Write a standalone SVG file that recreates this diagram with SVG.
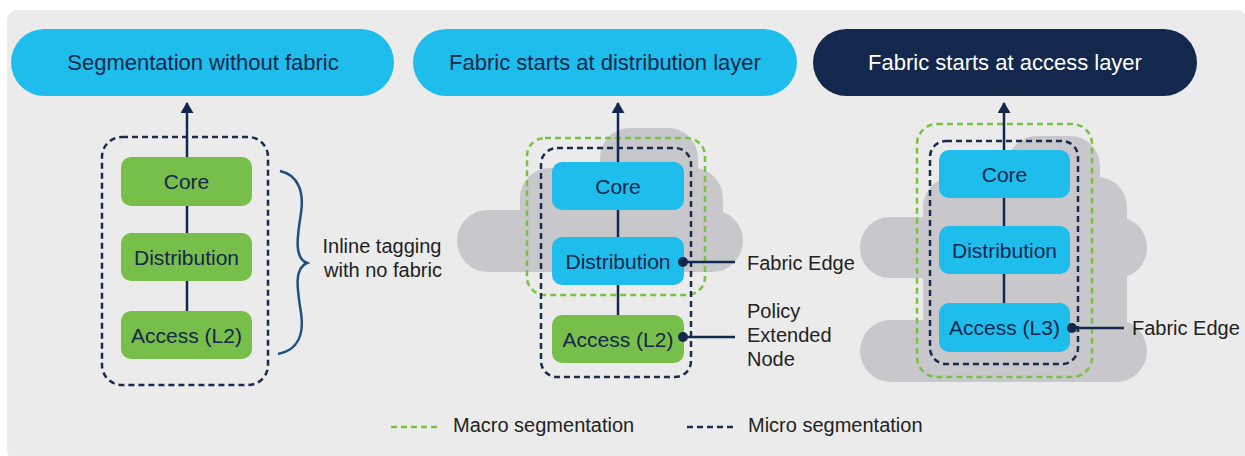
<svg xmlns="http://www.w3.org/2000/svg" width="1245" height="456" viewBox="0 0 1245 456">
<defs>
<style>
.title{font-family:"Liberation Sans",Arial,sans-serif;font-size:22px;text-anchor:middle}
.lbl{font-family:"Liberation Sans",Arial,sans-serif;font-size:21px;text-anchor:middle;fill:#13284c}
.note{font-family:"Liberation Sans",Arial,sans-serif;font-size:20px;fill:#222}
.green{fill:#78be4a}
.blue{fill:#1ebdeb}
.cloud{fill:#c8c8cc}
.micro{fill:none;stroke:#1a2b4c;stroke-width:2.5;stroke-dasharray:6 4}
.macro{fill:none;stroke:#7ac143;stroke-width:2.5;stroke-dasharray:6 4}
.conn{stroke:#13284c;stroke-width:2.5;fill:none}
.dot{fill:#13284c}
</style>
<marker id="arr" viewBox="0 0 11 13" refX="10" refY="6.5" markerWidth="11" markerHeight="13" markerUnits="userSpaceOnUse" orient="auto">
<path d="M0,0 L11,6.5 L0,13 Z" fill="#13284c"/>
</marker>
</defs>
<rect x="7" y="10" width="1240" height="450" rx="10" fill="#ebebeb"/>

<!-- clouds -->
<g id="cloud2" class="cloud">
<rect x="457" y="210" width="286" height="62" rx="31"/>
<rect x="520" y="168" width="203" height="104" rx="30"/>
<rect x="600" y="128" width="98" height="72" rx="30"/>
</g>
<g id="cloud3" class="cloud">
<rect x="860" y="217" width="287" height="61" rx="30"/>
<rect x="860" y="320" width="287" height="62" rx="31"/>
<rect x="923" y="177" width="204" height="180" rx="30"/>
<rect x="1007" y="136" width="93" height="70" rx="30"/>
</g>

<!-- titles -->
<g id="title1"><rect x="11" y="29" width="383" height="67" rx="33.5" fill="#1ebdeb"/><text class="title" x="203" y="70" fill="#13284c">Segmentation without fabric</text></g>
<g id="title2"><rect x="413" y="29" width="384" height="67" rx="33.5" fill="#1ebdeb"/><text class="title" x="605" y="70" fill="#13284c">Fabric starts at distribution layer</text></g>
<g id="title3"><rect x="813" y="29" width="384" height="67" rx="33.5" fill="#13284c"/><text class="title" x="1005" y="70" fill="#ffffff">Fabric starts at access layer</text></g>

<!-- segmentation boundaries -->
<g id="boundaries">
<rect class="micro" x="102" y="137" width="166" height="248" rx="20"/>
<rect class="macro" x="527" y="138" width="178" height="157" rx="18"/>
<rect class="micro" x="541" y="148" width="150" height="229" rx="16"/>
<rect class="macro" x="917" y="124" width="175" height="253" rx="20"/>
<rect class="micro" x="930" y="141" width="148" height="223" rx="16"/>
</g>

<!-- column 1 -->
<g id="core1"><rect class="green" x="121" y="157" width="131" height="49" rx="10"/><text class="lbl" x="186.5" y="189">Core</text></g>
<g id="dist1"><rect class="green" x="121" y="233" width="131" height="48" rx="10"/><text class="lbl" x="186.5" y="264.5">Distribution</text></g>
<g id="acc1"><rect class="green" x="121" y="311" width="131" height="48" rx="10"/><text class="lbl" x="186.5" y="342.5">Access (L2)</text></g>
<g id="inline"><text class="note" text-anchor="middle" x="382" y="253">Inline tagging</text><text class="note" text-anchor="middle" x="383" y="277">with no fabric</text></g>

<!-- column 2 -->
<g id="core2"><rect class="blue" x="552" y="162" width="132" height="48" rx="10"/><text class="lbl" x="618" y="193.5">Core</text></g>
<g id="dist2"><rect class="blue" x="552" y="237" width="132" height="48" rx="10"/><text class="lbl" x="618" y="268.5">Distribution</text></g>
<g id="acc2"><rect class="green" x="552" y="315" width="132" height="48" rx="10"/><text class="lbl" x="618" y="346.5">Access (L2)</text></g>
<g id="fe2"><text class="note" x="747" y="269.5">Fabric Edge</text></g>
<g id="pen"><text class="note" x="747" y="318">Policy</text><text class="note" x="747" y="342">Extended</text><text class="note" x="747" y="366">Node</text></g>

<!-- column 3 -->
<g id="core3"><rect class="blue" x="939" y="150" width="131" height="48" rx="10"/><text class="lbl" x="1004.5" y="181.5">Core</text></g>
<g id="dist3"><rect class="blue" x="939" y="226" width="131" height="48" rx="10"/><text class="lbl" x="1004.5" y="257.5">Distribution</text></g>
<g id="acc3"><rect class="blue" x="939" y="303" width="131" height="49" rx="10"/><text class="lbl" x="1004.5" y="335">Access (L3)</text></g>
<g id="fe3"><text class="note" x="1132" y="335">Fabric Edge</text></g>

<!-- connectors -->
<g id="connectors">
<line class="conn" x1="187" y1="157" x2="187" y2="103" marker-end="url(#arr)"/>
<line class="conn" x1="187" y1="206" x2="187" y2="233"/>
<line class="conn" x1="187" y1="281" x2="187" y2="311"/>
<line class="conn" x1="618" y1="162" x2="618" y2="103" marker-end="url(#arr)"/>
<line class="conn" x1="618" y1="210" x2="618" y2="237"/>
<line class="conn" x1="618" y1="285" x2="618" y2="315"/>
<line class="conn" x1="1004" y1="150" x2="1004" y2="103" marker-end="url(#arr)"/>
<line class="conn" x1="1004" y1="198" x2="1004" y2="226"/>
<line class="conn" x1="1004" y1="274" x2="1004" y2="303"/>
<line class="conn" x1="683" y1="262" x2="735" y2="262"/>
<circle class="dot" cx="683" cy="262" r="5"/>
<line class="conn" x1="683" y1="337" x2="735" y2="337"/>
<circle class="dot" cx="683" cy="337" r="5"/>
<line class="conn" x1="1072" y1="328" x2="1124" y2="328"/>
<circle class="dot" cx="1072" cy="328" r="5"/>
<path d="M280,171 C299,175 304,193 301,213 C297,238 294,258 307,263 C294,268 297,288 301,313 C304,333 299,350 278,354" fill="none" stroke="#234e80" stroke-width="2.5"/>
</g>

<!-- legend -->
<g id="legend">
<line x1="391" y1="427" x2="440" y2="427" stroke="#7ac143" stroke-width="2.5" stroke-dasharray="6 4"/>
<text class="note" x="453" y="432">Macro segmentation</text>
<line x1="687" y1="427" x2="736" y2="427" stroke="#1a2b4c" stroke-width="2.5" stroke-dasharray="6 4"/>
<text class="note" x="748" y="432">Micro segmentation</text>
</g>
</svg>
